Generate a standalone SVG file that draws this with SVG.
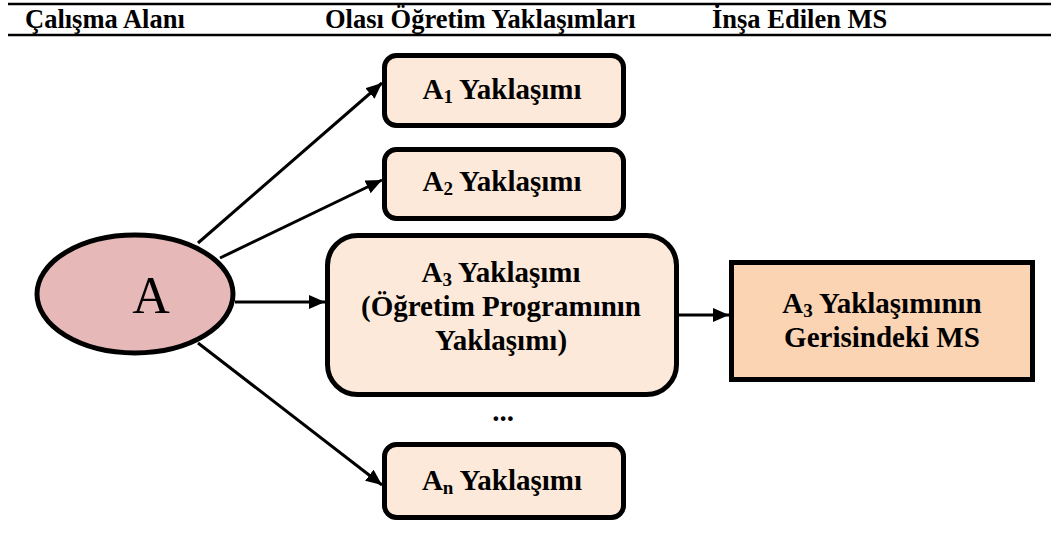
<svg xmlns="http://www.w3.org/2000/svg" width="1051" height="537" viewBox="0 0 1051 537">
<defs>
<style>
.hdr{font-family:"Liberation Serif","Times New Roman",serif;font-weight:bold;font-size:26.5px;fill:#000}
.bt{font-family:"Liberation Serif","Times New Roman",serif;font-weight:bold;font-size:29px;fill:#000;text-anchor:middle}
.sub{font-size:19px}
.rbox{fill:#fde9d9;stroke:#000;stroke-width:5}
.conn{stroke:#000;stroke-width:3;fill:none;marker-end:url(#ah)}
.rule{stroke:#000;fill:none}
</style>
<marker id="ah" markerUnits="userSpaceOnUse" markerWidth="17" markerHeight="15" refX="16" refY="7" orient="auto">
<path d="M0,0 L16,7 L0,14 z" fill="#000"/>
</marker>
</defs>
<rect width="1051" height="537" fill="#fff"/>
<g id="header">
<line class="rule" x1="8" y1="4" x2="1051" y2="4" stroke-width="2.5"/>
<line class="rule" x1="8" y1="35" x2="1051" y2="35" stroke-width="2.5"/>
<text class="hdr" x="25" y="28">Çalışma Alanı</text>
<text class="hdr" x="325" y="28">Olası Öğretim Yaklaşımları</text>
<text class="hdr" x="712" y="28">İnşa Edilen MS</text>
</g>
<g id="connectors">
<line class="conn" x1="198" y1="243" x2="382" y2="83"/>
<line class="conn" x1="220" y1="258" x2="382" y2="180"/>
<line class="conn" x1="235" y1="302" x2="325" y2="302"/>
<line class="conn" x1="198" y1="343" x2="382" y2="485"/>
<line class="conn" x1="679" y1="315" x2="729" y2="315"/>
</g>
<g id="nodeA">
<ellipse cx="135" cy="294" rx="98" ry="59" fill="#e6b9b8" stroke="#000" stroke-width="5"/>
<text x="151" y="313" font-family="Liberation Serif, Times New Roman, serif" font-size="52" text-anchor="middle">A</text>
</g>
<g id="nodeA1">
<rect class="rbox" x="384.5" y="55.5" width="239" height="70" rx="12"/>
<text class="bt" x="502" y="99">A<tspan class="sub" dy="4">1</tspan><tspan dy="-4"> Yaklaşımı</tspan></text>
</g>
<g id="nodeA2">
<rect class="rbox" x="384.5" y="149.5" width="239" height="69" rx="12"/>
<text class="bt" x="502" y="191">A<tspan class="sub" dy="4">2</tspan><tspan dy="-4"> Yaklaşımı</tspan></text>
</g>
<g id="nodeA3">
<rect class="rbox" x="327.5" y="235.5" width="349" height="159" rx="30"/>
<text class="bt" x="501" y="282">A<tspan class="sub" dy="4">3</tspan><tspan dy="-4"> Yaklaşımı</tspan></text>
<text class="bt" x="501" y="316">(Öğretim Programının</text>
<text class="bt" x="501" y="350">Yaklaşımı)</text>
</g>
<g id="dots">
<text class="bt" x="503" y="421">...</text>
</g>
<g id="nodeAn">
<rect class="rbox" x="384.5" y="444.5" width="239" height="73" rx="12"/>
<text class="bt" x="502" y="490">A<tspan class="sub" dy="4">n</tspan><tspan dy="-4"> Yaklaşımı</tspan></text>
</g>
<g id="nodeMS">
<rect x="731.5" y="262.5" width="301" height="117" fill="#fbd4b4" stroke="#000" stroke-width="5"/>
<text class="bt" x="882" y="313">A<tspan class="sub" dy="4">3</tspan><tspan dy="-4"> Yaklaşımının</tspan></text>
<text class="bt" x="882" y="347">Gerisindeki MS</text>
</g>
</svg>
